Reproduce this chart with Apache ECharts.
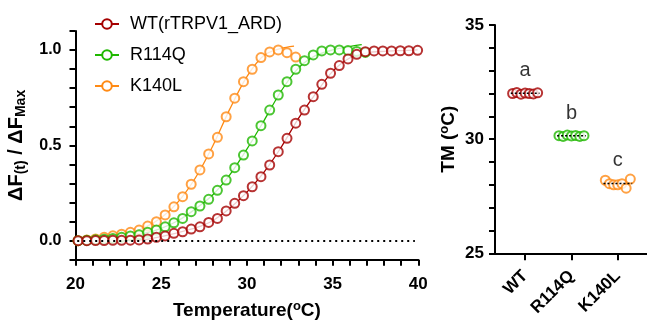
<!DOCTYPE html>
<html><head><meta charset="utf-8">
<script src="https://cdn.jsdelivr.net/npm/echarts@6/dist/echarts.min.js"></script>
<style>html,body{margin:0;padding:0;background:#fff}#c{width:647px;height:321px}</style>
</head><body><div id="c"></div>
<script>
// ---- Data: melting curves ----
const temps = [20.15,20.66,21.17,21.67,22.18,22.69,23.20,23.71,24.21,24.72,25.23,25.74,26.25,26.75,27.26,27.77,28.28,28.79,29.29,29.80,30.31,30.82,31.33,31.83,32.34,32.85,33.36,33.87,34.37,34.88,35.39,35.90,36.41,36.91,37.42,37.93,38.44,38.95,39.45,39.96];
const wtPts = [0.0,0.0,0.001,0.001,0.002,0.002,0.003,0.004,0.009,0.018,0.025,0.039,0.047,0.061,0.073,0.096,0.117,0.156,0.196,0.236,0.283,0.336,0.397,0.467,0.537,0.616,0.685,0.755,0.820,0.878,0.918,0.953,0.977,0.991,0.995,0.995,0.995,0.996,0.996,0.998];
const r114qPts = [0.0,0.002,0.005,0.008,0.012,0.018,0.025,0.031,0.044,0.056,0.073,0.094,0.117,0.152,0.182,0.217,0.264,0.318,0.383,0.449,0.523,0.603,0.685,0.764,0.834,0.899,0.944,0.974,0.995,1.0,1.0,0.997,0.992,0.987];
const k140lPts = [0.0,0.004,0.009,0.018,0.026,0.034,0.044,0.056,0.077,0.100,0.135,0.178,0.231,0.296,0.371,0.455,0.542,0.650,0.747,0.834,0.899,0.960,0.990,1.000,0.986,0.963];
// fitted curves
const wtFitT = [20.15,22,24,25,26,27,28,29,30,31,32,33,34,35,36,37,38,39,39.96];
const wtFit = [0.0,0.002,0.006,0.022,0.043,0.067,0.105,0.17,0.255,0.36,0.49,0.64,0.77,0.888,0.958,0.985,0.993,0.997,1.0];
const r114qFitT = [20.15,22,23,24,25,26,27,28,29,30,31,32,33,34,35,36,36.7];
const r114qFit = [0.0,0.011,0.022,0.038,0.065,0.106,0.167,0.24,0.345,0.48,0.63,0.785,0.905,0.97,1.0,1.018,1.028];
const k140lFitT = [20.15,21,22,23,24,25,26,27,28,29,30,31,32,32.75];
const k140lFit = [0.0,0.008,0.022,0.04,0.068,0.12,0.205,0.33,0.495,0.69,0.86,0.972,1.008,1.02];
const seriesNames = ['WT(rTRPV1_ARD)','R114Q','K140L'];
// ---- Data: TM ----
const groups = ['WT','R114Q','K140L'];
const tmWT = [32.0,32.04,31.97,32.02,32.0,31.98,32.03];
const tmR114Q = [30.15,30.12,30.18,30.14,30.16,30.12,30.15];
const tmK140L = [28.2,28.05,28.0,28.0,28.05,27.85,28.25];
const letters = ['a','b','c'];

const colors = ['#A50000','#1FB800','#FF8A14'];
const font = 'Liberation Sans, Arial, sans-serif';
const zip = (xs, ys) => ys.map((v,i)=>[xs[i], v]);
const pts = [wtPts, r114qPts, k140lPts];
const fitsT = [wtFitT, r114qFitT, k140lFitT];
const fits = [wtFit, r114qFit, k140lFit];
const tms = [tmWT, tmR114Q, tmK140L];

const series = [];
[2,1,0].forEach(g => {
  series.push({
    type:'line', name: seriesNames[g], xAxisIndex:0, yAxisIndex:0,
    data: zip(fitsT[g], fits[g]), smooth:0.3, symbol:'emptyCircle', symbolSize:8, showSymbol:false,
    lineStyle:{color:colors[g], width:1.3}, itemStyle:{color:colors[g], borderWidth:2},
    z:2, silent:true,
    markLine: g===2 ? {silent:true, symbol:'none', label:{show:false},
      lineStyle:{color:'#000', type:[2,4], width:2},
      data:[[{coord:[20.1,0]},{coord:[39.8,0]}]]} : undefined
  });
});
[2,1,0].forEach(g => {
  series.push({
    type:'scatter', name: seriesNames[g]+' pts', xAxisIndex:0, yAxisIndex:0,
    data: zip(temps, pts[g]), symbol:'emptyCircle', symbolSize:9,
    itemStyle:{color:colors[g], borderColor:colors[g], borderWidth:2}, z:3
  });
});
tms.forEach((arr, g) => {
  const n = arr.length;
  series.push({
    type:'scatter', name: groups[g]+' tm', xAxisIndex:1, yAxisIndex:1,
    data: arr.map((v,i)=>[g + (i-(n-1)/2)*0.09, v]),
    symbol:'emptyCircle', symbolSize:9,
    itemStyle:{color:colors[g], borderColor:colors[g], borderWidth:2}, z:3
  });
  const mean = arr.reduce((a,b)=>a+b,0)/n;
  series.push({
    type:'line', xAxisIndex:1, yAxisIndex:1, data:[[g-0.31, mean],[g+0.31, mean]],
    symbol:'none', lineStyle:{color:'#000', width:1.5, type:[2,2]}, z:4, silent:true
  });
  series.push({
    type:'scatter', xAxisIndex:1, yAxisIndex:1, data:[[g, mean+1.0]], symbolSize:0,
    label:{show:true, position:'inside', formatter: letters[g], color:'#000', fontSize:20, fontFamily:font}, z:5
  });
});

const chart = echarts.init(document.getElementById('c'), null, {renderer:'canvas'});
chart.setOption({
  animation:false,
  backgroundColor:'#fff',
  textStyle:{fontFamily:font},
  legend:{
    data: seriesNames, orient:'vertical', left:89, top:10,
    itemWidth:24, itemHeight:12, itemGap:13,
    textStyle:{fontSize:18, color:'#000', fontFamily:font, padding:[0,0,0,6], lineHeight:18},
    selectedMode:false
  },
  grid:[
    {left:75.5, right:228.7, top:30.9, bottom:61.2, containLabel:false, outerBoundsMode:'none'},
    {left:495, right:0, top:25, bottom:67.7, containLabel:false, outerBoundsMode:'none'}
  ],
  xAxis:[
    {gridIndex:0, type:'value', min:20, max:40, interval:1,
     name:'{b|Temperature(}{p|o}{b|C)}', nameLocation:'middle', nameGap:41,
     nameTextStyle:{rich:{
       b:{fontSize:19, fontWeight:'bold', color:'#000', fontFamily:font, lineHeight:20},
       p:{fontSize:13, fontWeight:'bold', color:'#000', fontFamily:font, lineHeight:13, padding:[0,0,9,0]}}},
     axisLine:{onZero:false, lineStyle:{color:'#000', width:2}},
     axisTick:{length:6, lineStyle:{color:'#000', width:2}},
     axisLabel:{margin:16, color:'#000', fontSize:17, fontWeight:'bold', fontFamily:font,
       formatter:v => (Math.round(v)%5===0 ? String(Math.round(v)) : '')},
     splitLine:{show:false}},
    {gridIndex:1, type:'value', min:-0.65, max:2.63,
     axisLine:{onZero:false, lineStyle:{color:'#000', width:2}},
     axisTick:{length:7, lineStyle:{color:'#000', width:2}, customValues:[0,1,2]},
     axisLabel:{customValues:[0,1,2], rotate:45, margin:20, color:'#000', fontSize:17, fontWeight:'bold', fontFamily:font,
       formatter:v => groups[Math.round(v)] || ''},
     splitLine:{show:false}}
  ],
  yAxis:[
    {gridIndex:0, type:'value', min:-0.1, max:1.1, interval:0.1,
     name:'{b|ΔF}{s|(t)}{b| / ΔF}{s|Max}', nameLocation:'middle', nameGap:38,
     nameTextStyle:{rich:{
       b:{fontSize:20, fontWeight:'bold', color:'#000', fontFamily:font, lineHeight:22},
       s:{fontSize:14, fontWeight:'bold', color:'#000', fontFamily:font, lineHeight:14, padding:[10,0,0,0]}}},
     axisLine:{onZero:false, lineStyle:{color:'#000', width:2}},
     axisTick:{length:6, lineStyle:{color:'#000', width:2}},
     axisLabel:{margin:14, color:'#000', fontSize:16, fontWeight:'bold', fontFamily:font,
       formatter:v => { const t = Math.round(v*10); return (t>=0 && t%5===0) ? (t/10).toFixed(1) : ''; }},
     splitLine:{show:false}},
    {gridIndex:1, type:'value', min:25, max:35, interval:1,
     name:'{b|TM (}{p|o}{b|C)}', nameLocation:'middle', nameGap:36,
     nameTextStyle:{rich:{
       b:{fontSize:19, fontWeight:'bold', color:'#000', fontFamily:font, lineHeight:20},
       p:{fontSize:13, fontWeight:'bold', color:'#000', fontFamily:font, lineHeight:13, padding:[0,0,9,0]}}},
     axisLine:{onZero:false, lineStyle:{color:'#000', width:2}},
     axisTick:{length:6, lineStyle:{color:'#000', width:2}},
     axisLabel:{margin:11, color:'#000', fontSize:17, fontWeight:'bold', fontFamily:font,
       formatter:v => (Math.round(v)%5===0 ? String(Math.round(v)) : '')},
     splitLine:{show:false}}
  ],
  series: series
});
</script></body></html>
